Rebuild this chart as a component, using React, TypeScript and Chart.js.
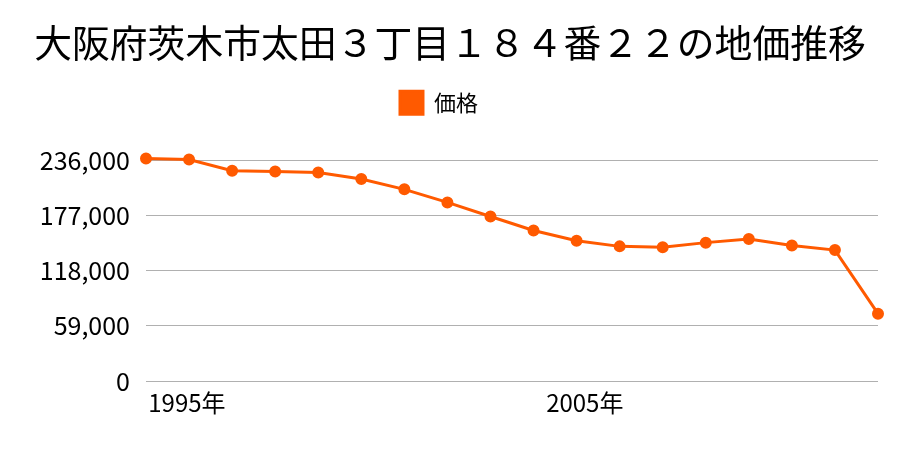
import React, { useEffect, useRef } from "react";
import { Chart, registerables } from "chart.js";

Chart.register(...registerables);

const TITLE = "大阪府茨木市太田３丁目１８４番２２の地価推移";
const SERIES_LABEL = "価格";
const YEARS = [1995, 1996, 1997, 1998, 1999, 2000, 2001, 2002, 2003, 2004, 2005, 2006, 2007, 2008, 2009, 2010, 2011, 2012];
const PRICES = [238000, 237000, 225000, 224000, 223000, 216000, 205000, 191000, 176000, 161000, 150000, 144000, 143000, 148000, 152000, 145000, 140000, 72000];
const X_TICK_LABELS = ["1995年", "2005年"];
const X_TICK_YEARS = [1995, 2005];
const Y_TICKS = [0, 59000, 118000, 177000, 236000];

const FONT = "'Noto Sans CJK JP', 'Noto Sans', sans-serif";
const ORANGE = "#ff5a00";

export default function App() {
  const ref = useRef<HTMLCanvasElement | null>(null);

  useEffect(() => {
    if (!ref.current) return;
    const layoutTweaks = {
      id: "layoutTweaks",
      beforeInit(chart: any) {
        const orig = chart.legend.fit;
        chart.legend.fit = function () {
          orig.bind(chart.legend)();
          this.height += 36;
        };
      },
      afterLayout(chart: any) {
        // centre the title over the whole canvas
        if (chart.titleBlock) {
          chart.titleBlock.left = 0;
          chart.titleBlock.right = chart.width;
          chart.titleBlock.width = chart.width;
        }
      },
    };
    const chart = new Chart(ref.current, {
      type: "line",
      data: {
        datasets: [
          {
            label: SERIES_LABEL,
            data: YEARS.map((y, i) => ({ x: y, y: PRICES[i] })),
            borderColor: ORANGE,
            backgroundColor: ORANGE,
            pointBackgroundColor: ORANGE,
            pointBorderColor: ORANGE,
            borderWidth: 3,
            pointRadius: 4.5,
            tension: 0,
            clip: false,
          },
        ],
      },
      options: {
        responsive: false,
        animation: false,
        layout: { padding: { left: 0, right: 22, top: 0, bottom: 0 } },
        plugins: {
          title: {
            display: true,
            text: TITLE,
            color: "#000",
            font: { family: FONT, size: 37.8, weight: "normal" },
            padding: { top: 20, bottom: 16 },
          },
          legend: {
            display: true,
            labels: {
              color: "#000",
              font: { family: FONT, size: 22 },
              boxWidth: 23,
              boxHeight: 23,
              padding: 10,
            },
          },
          tooltip: { enabled: false },
        },
        scales: {
          x: {
            type: "linear",
            min: YEARS[0],
            max: YEARS[YEARS.length - 1],
            grid: { display: false, drawTicks: false },
            border: { display: false },
            afterBuildTicks(scale: any) {
              // label anchors (slightly offset from year positions, as in the reference)
              const shifts = [0.95, 0.19];
              scale.ticks = X_TICK_YEARS.map((v, i) => ({ value: v + shifts[i] }));
            },
            afterFit(scale: any) {
              scale.height = 69;
            },
            ticks: {
              autoSkip: false,
              maxRotation: 0,
              padding: 7,
              color: "#000",
              font: { family: FONT, size: 24 },
              callback: (_v: any, i: number) => X_TICK_LABELS[i],
            },
          },
          y: {
            min: 0,
            max: Y_TICKS[Y_TICKS.length - 1],
            afterBuildTicks(scale: any) {
              scale.ticks = Y_TICKS.map((v) => ({ value: v }));
            },
            afterFit(scale: any) {
              scale.width = 146;
            },
            grid: { color: "#b0b0b0", lineWidth: 1, drawTicks: false },
            border: { display: false },
            ticks: {
              padding: 16,
              color: "#000",
              font: { family: FONT, size: 25 },
              callback: (v: any) => Number(v).toLocaleString("en-US"),
            },
          },
        },
      },
      plugins: [layoutTweaks],
    } as any);
    return () => chart.destroy();
  }, []);

  return (
    <div style={{ position: "absolute", left: 0, top: 0, width: 900, height: 450 }}>
      <canvas ref={ref} width={900} height={450} />
    </div>
  );
}
